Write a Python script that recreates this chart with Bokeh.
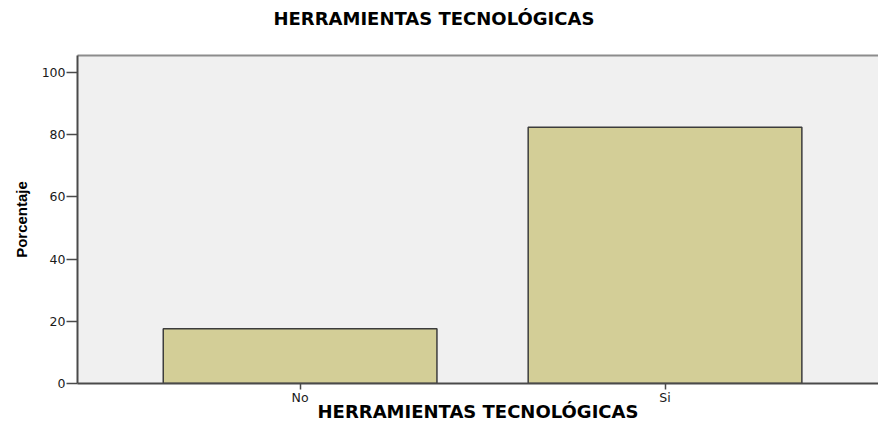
from bokeh.plotting import figure
from bokeh.models import Range1d, FixedTicker, LinearAxis, Title
from bokeh.embed import file_html
from bokeh.resources import INLINE

# ---- data ----
categories = ["No", "Si"]
porcentaje = [17.6, 82.4]
y_ticks = [0, 20, 40, 60, 80, 100]
title_text = "HERRAMIENTAS TECNOLÓGICAS"
x_label = "HERRAMIENTAS TECNOLÓGICAS"
y_label = "Porcentaje"

xpos = list(range(len(categories)))

p = figure(width=878, height=430, output_backend="svg", toolbar_location=None,
           x_range=Range1d(-0.61, 1.585), y_range=Range1d(0, 105.5),
           min_border_left=77, min_border_right=0, min_border_top=55,
           min_border_bottom=47)

p.background_fill_color = "#F0F0F0"
p.border_fill_color = "white"
p.outline_line_color = None
p.xgrid.visible = False
p.ygrid.visible = False

p.vbar(x=xpos, top=porcentaje, width=0.75, bottom=0,
       fill_color="#D3CE97", line_color="#3C3C3C", line_width=1.5)

# axes
for ax in (p.xaxis[0], p.yaxis[0]):
    ax.axis_line_color = "#4A4A4A"
    ax.axis_line_width = 2
    ax.major_tick_line_color = "#4A4A4A"
    ax.major_tick_line_width = 1.5
    ax.major_tick_in = 0
    ax.minor_tick_line_color = None
    ax.major_label_text_font = "DejaVu Sans"
    ax.major_label_text_font_size = "12.5px"
    ax.major_label_text_color = "#1A1A1A"

p.xaxis.ticker = FixedTicker(ticks=xpos)
p.xaxis.major_label_overrides = {i: c for i, c in zip(xpos, categories)}
p.xaxis.major_tick_out = 6
p.xaxis.major_label_standoff = 0
p.xaxis.axis_label = x_label
p.xaxis.axis_label_text_font = "DejaVu Sans"
p.xaxis.axis_label_text_font_style = "bold"
p.xaxis.axis_label_text_font_size = "18px"
p.xaxis.axis_label_text_color = "black"
p.xaxis.axis_label_standoff = -7

p.yaxis.ticker = FixedTicker(ticks=y_ticks)
p.yaxis.major_tick_out = 11
p.yaxis.major_label_standoff = 1
p.yaxis.axis_label = y_label
p.yaxis.axis_label_text_font = "Liberation Sans"
p.yaxis.axis_label_text_font_style = "bold"
p.yaxis.axis_label_text_font_size = "15px"
p.yaxis.axis_label_text_color = "black"
p.yaxis.axis_label_standoff = 9

# top frame line (blank label only reserves room above the frame)
top = LinearAxis(axis_line_color="#8C8C8C", axis_line_width=2,
                 major_tick_line_color=None, minor_tick_line_color=None,
                 major_tick_out=0, major_tick_in=0,
                 major_label_text_font_size="0px", ticker=FixedTicker(ticks=[]),
                 axis_label=" ", axis_label_text_font_size="14px",
                 axis_label_standoff=3)
p.add_layout(top, "above")

p.add_layout(Title(text=title_text, align="left", offset=196,
                   text_font="DejaVu Sans", text_font_style="bold",
                   text_font_size="18px", text_color="black"), "above")

open("out.html", "w").write(file_html(p, INLINE))
